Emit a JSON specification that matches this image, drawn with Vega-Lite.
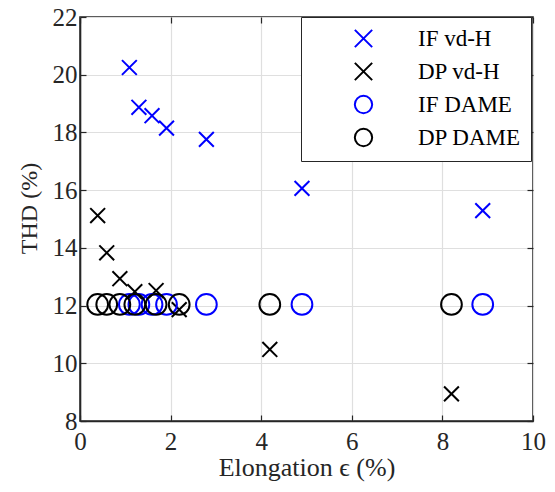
{
  "$schema": "https://vega.github.io/schema/vega-lite/v6.json",
  "autosize": "none",
  "width": 453,
  "height": 404,
  "padding": {"left": 80, "top": 17, "right": 22, "bottom": 71},
  "background": "white",
  "config": {
    "view": {"stroke": "#262626", "strokeWidth": 1.6},
    "font": "Liberation Serif",
    "axis": {
      "labelFont": "Liberation Serif",
      "titleFont": "Liberation Serif",
      "labelColor": "#262626",
      "titleColor": "#262626",
      "domainColor": "#262626",
      "tickColor": "#262626",
      "domainWidth": 1.6,
      "tickWidth": 1.2,
      "tickSize": -6,
      "labelFontSize": 25,
      "titleFontWeight": "normal",
      "gridColor": "#dfdfdf",
      "gridWidth": 1.2,
      "labelFlush": false
    },
    "legend": {
      "labelFont": "Liberation Serif",
      "labelFontSize": 23,
      "labelColor": "#000000"
    }
  },
  "data": {
    "values": [
      {"series": "IF vd-H", "e": 1.09, "thd": 20.25},
      {"series": "IF vd-H", "e": 1.30, "thd": 18.87},
      {"series": "IF vd-H", "e": 1.59, "thd": 18.58},
      {"series": "IF vd-H", "e": 1.91, "thd": 18.15},
      {"series": "IF vd-H", "e": 2.79, "thd": 17.76},
      {"series": "IF vd-H", "e": 4.90, "thd": 16.06},
      {"series": "IF vd-H", "e": 8.89, "thd": 15.29},
      {"series": "DP vd-H", "e": 0.39, "thd": 15.12},
      {"series": "DP vd-H", "e": 0.59, "thd": 13.83},
      {"series": "DP vd-H", "e": 0.88, "thd": 12.93},
      {"series": "DP vd-H", "e": 1.21, "thd": 12.48},
      {"series": "DP vd-H", "e": 1.68, "thd": 12.52},
      {"series": "DP vd-H", "e": 2.19, "thd": 11.86},
      {"series": "DP vd-H", "e": 4.19, "thd": 10.48},
      {"series": "DP vd-H", "e": 8.20, "thd": 8.94},
      {"series": "IF DAME", "e": 1.09, "thd": 12.04},
      {"series": "IF DAME", "e": 1.30, "thd": 12.04},
      {"series": "IF DAME", "e": 1.59, "thd": 12.04},
      {"series": "IF DAME", "e": 1.91, "thd": 12.04},
      {"series": "IF DAME", "e": 2.79, "thd": 12.04},
      {"series": "IF DAME", "e": 4.90, "thd": 12.04},
      {"series": "IF DAME", "e": 8.89, "thd": 12.04},
      {"series": "DP DAME", "e": 0.39, "thd": 12.04},
      {"series": "DP DAME", "e": 0.59, "thd": 12.04},
      {"series": "DP DAME", "e": 0.88, "thd": 12.04},
      {"series": "DP DAME", "e": 1.21, "thd": 12.04},
      {"series": "DP DAME", "e": 1.68, "thd": 12.04},
      {"series": "DP DAME", "e": 2.19, "thd": 12.04},
      {"series": "DP DAME", "e": 4.19, "thd": 12.04},
      {"series": "DP DAME", "e": 8.20, "thd": 12.04}
    ]
  },
  "layer": [
    {
      "mark": {"type": "point", "opacity": 0},
      "encoding": {
        "x": {
          "field": "e", "type": "quantitative",
          "scale": {"domain": [0, 10], "nice": false, "zero": false},
          "axis": {"orient": "top", "values": [0, 2, 4, 6, 8, 10], "labels": false, "title": null, "grid": false, "domain": false}
        },
        "y": {
          "field": "thd", "type": "quantitative",
          "scale": {"domain": [8, 22], "nice": false, "zero": false},
          "axis": {"orient": "right", "values": [8, 10, 12, 14, 16, 18, 20, 22], "labels": false, "title": null, "grid": false, "domain": false}
        }
      }
    },
    {
      "encoding": {
        "x": {
          "field": "e", "type": "quantitative",
          "scale": {"domain": [0, 10], "nice": false, "zero": false},
          "axis": {"orient": "bottom", "values": [0, 2, 4, 6, 8, 10], "title": "Elongation ϵ (%)", "titleFontSize": 26, "labelPadding": 14, "titlePadding": 0, "grid": true}
        },
        "y": {
          "field": "thd", "type": "quantitative",
          "scale": {"domain": [8, 22], "nice": false, "zero": false},
          "axis": {"orient": "left", "values": [8, 10, 12, 14, 16, 18, 20, 22], "title": "THD (%)", "titleFontSize": 24, "titleY": 191, "labelPadding": 9, "titlePadding": 11, "grid": true}
        },
        "color": {
          "field": "series", "type": "nominal",
          "scale": {"domain": ["IF vd-H", "DP vd-H", "IF DAME", "DP DAME"], "range": ["#0000ff", "#000000", "#0000ff", "#000000"]},
          "legend": {
            "title": null, "orient": "none", "legendX": 221, "legendY": 0,
            "padding": 10, "symbolOffset": 41, "labelOffset": 43, "rowPadding": 6,
            "symbolSize": 300,
            "strokeColor": "#262626", "fillColor": "white", "symbolStrokeWidth": 2
          }
        },
        "shape": {
          "field": "series", "type": "nominal",
          "scale": {"domain": ["IF vd-H", "DP vd-H", "IF DAME", "DP DAME"], "range": ["M-1,-1L1,1M-1,1L1,-1", "M-1,-1L1,1M-1,1L1,-1", "circle", "circle"]},
          "legend": {
            "title": null, "orient": "none", "legendX": 221, "legendY": 0,
            "padding": 10, "symbolOffset": 41, "labelOffset": 43, "rowPadding": 6,
            "symbolSize": 300,
            "strokeColor": "#262626", "fillColor": "white", "symbolStrokeWidth": 2
          }
        }
      },
      "layer": [
        {
          "transform": [{"filter": "indexof(datum.series, 'vd-H') >= 0"}],
          "mark": {"type": "point", "filled": false, "strokeWidth": 2, "opacity": 1, "size": 220}
        },
        {
          "transform": [{"filter": "indexof(datum.series, 'DAME') >= 0"}],
          "mark": {"type": "point", "filled": false, "strokeWidth": 2, "opacity": 1, "size": 430}
        }
      ]
    }
  ],
  "resolve": {"axis": {"x": "independent", "y": "independent"}}
}
